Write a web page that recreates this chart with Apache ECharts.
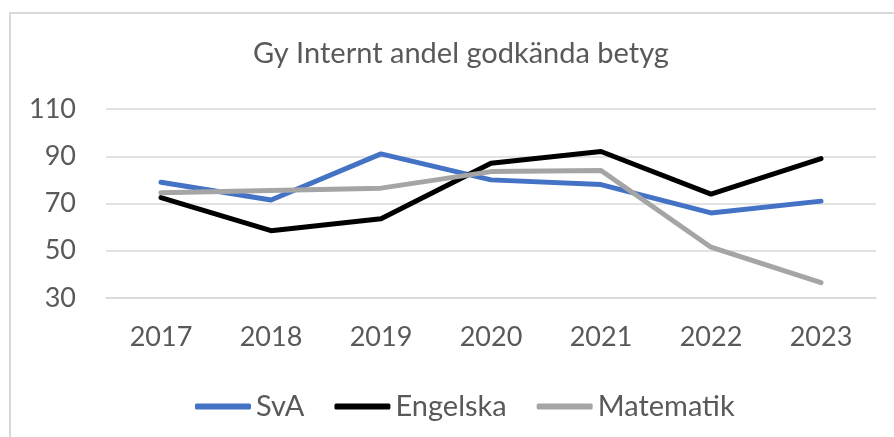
<!DOCTYPE html>
<html>
<head>
<meta charset="utf-8">
<script src="https://cdn.jsdelivr.net/npm/echarts@6/dist/echarts.min.js"></script>
<style>
  html, body { margin: 0; padding: 0; background: #fff; }
  #chart { width: 894px; height: 437px; }
</style>
</head>
<body>
<div id="chart"></div>
<script>
const years = ['2017', '2018', '2019', '2020', '2021', '2022', '2023'];
const sva = [79, 71.5, 91, 80, 78, 66, 71];
const engelska = [72.5, 58.5, 63.5, 87, 92, 74, 89];
const matematik = [74.5, 75.5, 76.5, 83.5, 84, 51.5, 36.5];

const textColor = '#595959';
const font = 'Lato';

const chart = echarts.init(document.getElementById('chart'));

const lineSeries = (name, data, color) => ({
  name,
  type: 'line',
  data,
  symbol: 'none',
  lineStyle: { width: 5, color, cap: 'round', join: 'round' },
  itemStyle: { color }
});

chart.setOption({
  backgroundColor: '#fff',
  animation: false,
  title: {
    text: 'Gy Internt andel godkända betyg',
    left: 456,
    textAlign: 'center',
    top: 34,
    textStyle: { color: textColor, fontFamily: font, fontSize: 29, fontWeight: 'normal' }
  },
  graphic: [{
    type: 'rect',
    shape: { x: 10, y: 13, width: 1000, height: 1000 },
    style: { fill: 'none', stroke: '#d9d9d9', lineWidth: 2 },
    silent: true
  }],
  legend: {
    left: 190,
    top: 387,
    icon: 'roundRect',
    itemWidth: 56,
    itemHeight: 6,
    itemGap: 30,
    textStyle: { color: textColor, fontFamily: font, fontSize: 29 },
    data: ['SvA', 'Engelska', 'Matematik']
  },
  grid: { left: 106, right: 18, top: 109, bottom: 139 },
  xAxis: {
    type: 'category',
    data: years,
    boundaryGap: true,
    axisLine: { lineStyle: { color: '#d9d9d9', width: 1.5 } },
    axisTick: { show: false },
    axisLabel: { color: textColor, fontFamily: font, fontSize: 27, margin: 26 }
  },
  yAxis: {
    type: 'value',
    min: 30,
    max: 110,
    interval: 20,
    axisLine: { show: false },
    axisTick: { show: false },
    axisLabel: { color: textColor, fontFamily: font, fontSize: 27, margin: 30 },
    splitLine: { lineStyle: { color: '#d9d9d9', width: 1.5 } }
  },
  series: [
    lineSeries('SvA', sva, '#4472C4'),
    lineSeries('Engelska', engelska, '#000000'),
    lineSeries('Matematik', matematik, '#A5A5A5')
  ]
});
</script>
</body>
</html>
